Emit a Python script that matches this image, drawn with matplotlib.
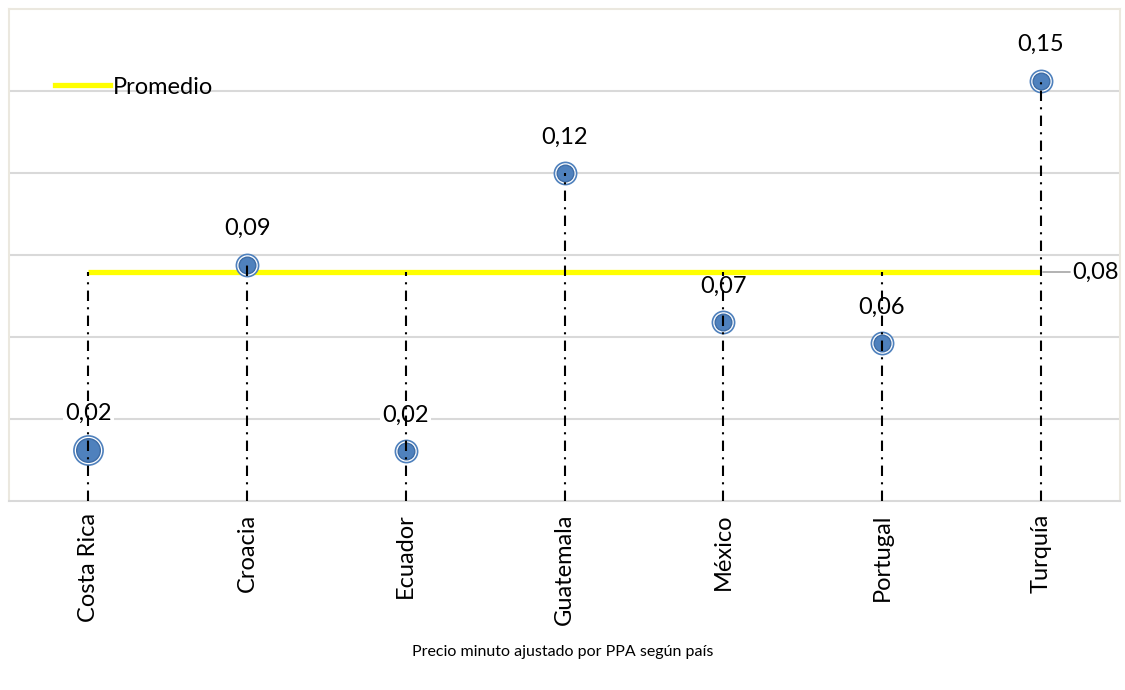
import numpy as np
import matplotlib
matplotlib.use('Agg')
import matplotlib.pyplot as plt
from matplotlib.lines import Line2D

# datos
paises = ['Costa Rica', 'Croacia', 'Ecuador', 'Guatemala', 'México', 'Portugal', 'Turquía']
precio = [0.0187, 0.0864, 0.0183, 0.120, 0.0655, 0.0578, 0.1537]
promedio = 0.0838
titulo = 'Precio minuto ajustado por PPA según país'

azul = '#4f81bd'
amarillo = '#ffff00'
gris = '#d9d9d9'
fs = 17

plt.rcParams['font.family'] = ['Lato', 'DejaVu Sans']

fig = plt.figure(figsize=(11.25, 6.9), dpi=100)
ax = fig.add_axes([9/1125, 1 - 501/690, 1111/1125, 492/690])
ax.set_axisbelow(True)

x = np.arange(len(paises))
ax.set_xlim(-0.5, len(paises) - 0.5)
ax.set_ylim(0, 0.18)

# rejilla horizontal
ax.set_yticks(np.arange(0.03, 0.16, 0.03))
ax.yaxis.grid(True, color=gris, lw=1.5)
ax.tick_params(axis='y', length=0, labelleft=False)
ax.set_xticks(x)
ax.set_xticklabels(paises, rotation=90, fontsize=fs, va='top')
ax.tick_params(axis='x', length=0, pad=9)
for s in ['left', 'top', 'right']:
    ax.spines[s].set_color('#ebe8df')
    ax.spines[s].set_linewidth(1.5)
ax.spines['bottom'].set_color(gris)
ax.spines['bottom'].set_linewidth(1.5)

# linea de promedio
ax.plot([x[0], x[-1]], [promedio, promedio], color=amarillo, lw=3.8, zorder=3,
        solid_capstyle='butt')
ax.annotate(f'{promedio:.2f}'.replace('.', ','), xy=(x[-1], promedio),
            xytext=(23, 0), textcoords='offset points', fontsize=fs,
            va='center', ha='left', annotation_clip=False,
            arrowprops=dict(arrowstyle='-', color='#a6a6a6', lw=1.2,
                            shrinkA=0, shrinkB=2,
                            connectionstyle='angle,angleA=0,angleB=20,rad=0'))

# lineas verticales y marcadores
for i, (p, v) in enumerate(zip(paises, precio)):
    grande = (p == 'Costa Rica')
    ms_out = 21 if grande else 16
    ms_in = 17 if grande else 12
    ax.plot(x[i], v, 'o', ms=ms_out, mfc='white', mec=azul, mew=1.2, zorder=4)
    ax.plot(x[i], v, 'o', ms=ms_in, mfc=azul, mec='#3d6ca6', mew=1.0, zorder=5)
    ax.plot([x[i], x[i]], [0, max(v, promedio)], color='black', lw=1.5,
            ls=(0, (5, 3, 1, 3)), zorder=6)
    ax.annotate(f'{v:.2f}'.replace('.', ','), xy=(x[i], v), xytext=(0, 26),
                textcoords='offset points', ha='center', va='center',
                fontsize=fs, zorder=2,
                bbox=dict(boxstyle='square,pad=0.1', fc='white', ec='none'))

leyenda = [Line2D([0], [0], color=amarillo, lw=3.8)]
ax.legend(leyenda, ['Promedio'], loc='center left', frameon=False,
          bbox_to_anchor=(0.041, 0.841), borderpad=0, borderaxespad=0,
          handlelength=2.35, handletextpad=0.1, fontsize=fs)

fig.text(0.5, 1 - 652/690, titulo, ha='center', va='center', fontsize=11.5)

fig.savefig('out.png', dpi=100)
